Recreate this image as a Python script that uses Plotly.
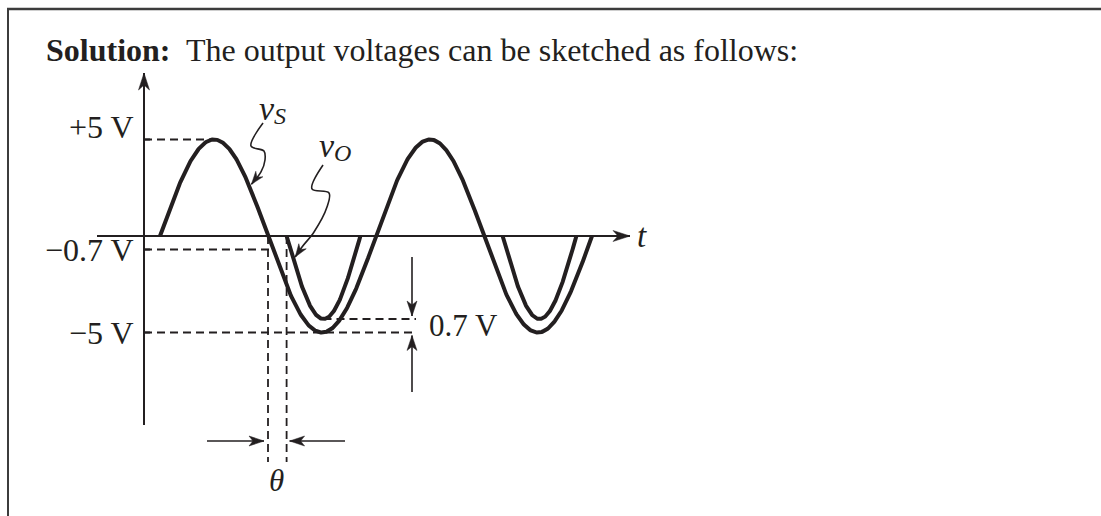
import numpy as np
import plotly.graph_objects as go

# ---------------- waveform values (phase in degrees, level in volts) ----------------
VS_PEAK = 5.0                       # source amplitude
CYCLES = 2                          # number of source periods drawn
DIODE_DROP = 0.7                    # diode forward drop
VO_PEAK = -(VS_PEAK - DIODE_DROP)   # most negative output level (-4.3 V)
VO_WINDOWS = [(211, 334), (571, 694)]   # phase intervals where the output is non-zero

LEVEL_VALUES = [VS_PEAK, -DIODE_DROP, -VS_PEAK]
LEVEL_LABELS = ["+5 V", "\u22120.7 V", "\u22125 V"]

# ---------------- drawing geometry ----------------
W, H = 1101, 516
X0_PX, Y0_PX = 160, 236      # pixel position of phase 0 / 0 V
PX_DEG = 0.6                 # pixels per degree
PX_V = 19.3                  # pixels per volt
INK = "#231f20"
FONT = "Liberation Serif"

X_RANGE = [-X0_PX / PX_DEG, (W - X0_PX) / PX_DEG]
Y_RANGE = [-(H - Y0_PX) / PX_V, Y0_PX / PX_V]


def dx(px):
    return px / PX_DEG


def dy(px):
    return px / PX_V


AXIS_X = dx(144 - X0_PX)          # vertical axis position
AXIS_TOP = dy(Y0_PX - 73)
AXIS_BOTTOM = -dy(425 - Y0_PX)
HAXIS_LEFT = dx(97 - X0_PX)
HAXIS_RIGHT = dx(630 - X0_PX)
DIM_X = dx(412 - X0_PX)           # 0.7 V dimension arrows
THETA_Y = -dy(441 - Y0_PX)        # theta dimension arrows
GUIDE_BOTTOM = -dy(462 - Y0_PX)


def vs_at(ph):
    return VS_PEAK * np.sin(np.radians(ph))


def vo_at(ph, a, b):
    return VO_PEAK * np.sin(np.pi * (ph - a) / (b - a))


phase = np.linspace(0, 360 * CYCLES, 721)
vs = vs_at(phase)

vo_x, vo_y = [], []
for a, b in VO_WINDOWS:
    ph = np.linspace(a, b, 241)
    vo_x += list(ph) + [None]
    vo_y += list(vo_at(ph, a, b)) + [None]

fig = go.Figure()
shapes = []
annotations = []


def line(xs, ys, width=2.0, dash=None, shape="linear"):
    fig.add_trace(go.Scatter(
        x=xs, y=ys, mode="lines", hoverinfo="skip", showlegend=False,
        line=dict(color=INK, width=width, dash=dash, shape=shape, smoothing=1.0),
    ))


def head(tx, ty, fx, fy, length=15, half=5.0, notch=4.0):
    """Filled swept arrowhead at (tx, ty) pointing away from (fx, fy)."""
    ux, uy = (tx - fx) * PX_DEG, (ty - fy) * PX_V
    n = np.hypot(ux, uy)
    ux, uy = ux / n, uy / n
    px, py = -uy, ux
    pts = [
        (0, 0),
        (-length * ux + half * px, -length * uy + half * py),
        (-(length - notch) * ux, -(length - notch) * uy),
        (-length * ux - half * px, -length * uy - half * py),
    ]
    path = "M " + " L ".join(f"{tx + ox / PX_DEG:.4f},{ty + oy / PX_V:.4f}" for ox, oy in pts) + " Z"
    shapes.append(dict(type="path", path=path, xref="x", yref="y",
                       fillcolor=INK, line=dict(color=INK, width=0.5)))


def arrow(fx, fy, tx, ty, width=1.6, **kw):
    line([fx, tx], [fy, ty], width=width)
    head(tx, ty, fx, fy, **kw)


def text(x, y, s, size=31, xanchor="center", yanchor="middle", yshift=0, xref="x", yref="y",
         style="normal"):
    annotations.append(dict(
        x=x, y=y, xref=xref, yref=yref, text=s, showarrow=False,
        xanchor=xanchor, yanchor=yanchor, yshift=yshift,
        font=dict(family=FONT, size=size, color=INK, style=style),
    ))


def symbol(x_px, y_px, letter, sub):
    """Italic quantity name with an italic subscript, e.g. v with subscript S."""
    text(dx(x_px - X0_PX), dy(Y0_PX - y_px), letter, size=34, xanchor="right", style="italic")
    text(dx(x_px - X0_PX - 5), dy(Y0_PX - y_px - 8), sub, size=24, xanchor="left", style="italic")


# coordinate axes
arrow(AXIS_X, AXIS_BOTTOM, AXIS_X, AXIS_TOP, width=2.0, length=17, half=5.5, notch=5)
arrow(HAXIS_LEFT, 0, HAXIS_RIGHT, 0, width=2.0, length=17, half=5.5, notch=5)

# dashed reference levels
knee_phase = 180 + np.degrees(np.arcsin(DIODE_DROP / VS_PEAK))
trough_phase = (VO_WINDOWS[0][0] + VO_WINDOWS[0][1]) / 2
dash = "8px,5px"
line([AXIS_X, 90], [VS_PEAK, VS_PEAK], width=1.8, dash=dash)
line([AXIS_X, knee_phase], [-DIODE_DROP, -DIODE_DROP], width=1.8, dash=dash)
line([AXIS_X, DIM_X + dx(4)], [-VS_PEAK, -VS_PEAK], width=1.8, dash=dash)
line([trough_phase, DIM_X + dx(4)], [VO_PEAK, VO_PEAK], width=1.8, dash=dash)
line([180, 180], [0, GUIDE_BOTTOM], width=1.8, dash=dash)
line([VO_WINDOWS[0][0], VO_WINDOWS[0][0]], [0, GUIDE_BOTTOM], width=1.8, dash=dash)

# waveforms
line(list(phase), list(vs), width=4.0)
line(vo_x, vo_y, width=4.0)

# short ticks where the dashed levels meet the vertical axis
for v in LEVEL_VALUES:
    line([AXIS_X, AXIS_X + dx(6)], [v, v], width=2.0)

# 0.7 V dimension
arrow(DIM_X, -dy(257 - Y0_PX), DIM_X, VO_PEAK + dy(3))
arrow(DIM_X, -dy(392 - Y0_PX), DIM_X, -VS_PEAK - dy(3))

# theta dimension
arrow(dx(207 - X0_PX), THETA_Y, 180 - dx(4), THETA_Y)
arrow(dx(345 - X0_PX), THETA_Y, VO_WINDOWS[0][0] + dx(3), THETA_Y)

# wavy leaders pointing at the two curves
vs_leader_x = [171.7, 151.7, 173.3, 175.0, 168.3]
vs_leader_y = [5.85, 4.66, 4.40, 3.94, 3.32]
tip = 149.0
line(vs_leader_x + [tip + dx(2)], vs_leader_y + [vs_at(tip) + dy(2)], width=1.6, shape="spline")
head(tip + dx(2), vs_at(tip) + dy(2), vs_leader_x[-1], vs_leader_y[-1], length=13, half=4.5)

vo_leader_x = [271.7, 253.3, 281.7, 278.3, 256.7, 236.7]
vo_leader_y = [3.68, 2.44, 2.23, 1.50, 0.21, -0.57]
tip = 222.0
tip_v = vo_at(tip, *VO_WINDOWS[0])
line(vo_leader_x + [tip + dx(2)], vo_leader_y + [tip_v + dy(2)], width=1.6, shape="spline")
head(tip + dx(2), tip_v + dy(2), vo_leader_x[-1], vo_leader_y[-1], length=13, half=4.5)

# labels
for v, s, sh in zip(LEVEL_VALUES, LEVEL_LABELS, [13, 0, 0]):
    text(AXIS_X - dx(8), v, s, size=32, xanchor="right", yshift=sh)
text(DIM_X + dx(15), (VO_PEAK - VS_PEAK) / 2, "0.7 V", size=31, xanchor="left")
text(HAXIS_RIGHT + dx(5), 0, "t", size=33, xanchor="left", style="italic")
symbol(277, 108, "v", "S")
symbol(337, 145, "v", "O")
text(dx(276 - X0_PX), -dy(480 - Y0_PX), "\u03b8", size=31, style="italic")

# heading
text(44 / W, 1 - 50 / H, "<b>Solution:</b>  The output voltages can be sketched as follows:",
     size=32, xanchor="left", xref="paper", yref="paper")

# page frame (top and left rules)
shapes.append(dict(type="line", xref="paper", yref="paper", x0=7 / W, x1=1, y0=1 - 9 / H, y1=1 - 9 / H,
                   line=dict(color="#3c3c3c", width=2.5)))
shapes.append(dict(type="line", xref="paper", yref="paper", x0=8 / W, x1=8 / W, y0=0, y1=1 - 9 / H,
                   line=dict(color="#3c3c3c", width=2)))

fig.update_layout(
    width=W, height=H,
    margin=dict(l=0, r=0, t=0, b=0, pad=0),
    paper_bgcolor="white", plot_bgcolor="white",
    xaxis=dict(range=X_RANGE, visible=False, fixedrange=True),
    yaxis=dict(range=Y_RANGE, visible=False, fixedrange=True),
    shapes=shapes, annotations=annotations,
    showlegend=False,
)

fig.write_html("out.html")
